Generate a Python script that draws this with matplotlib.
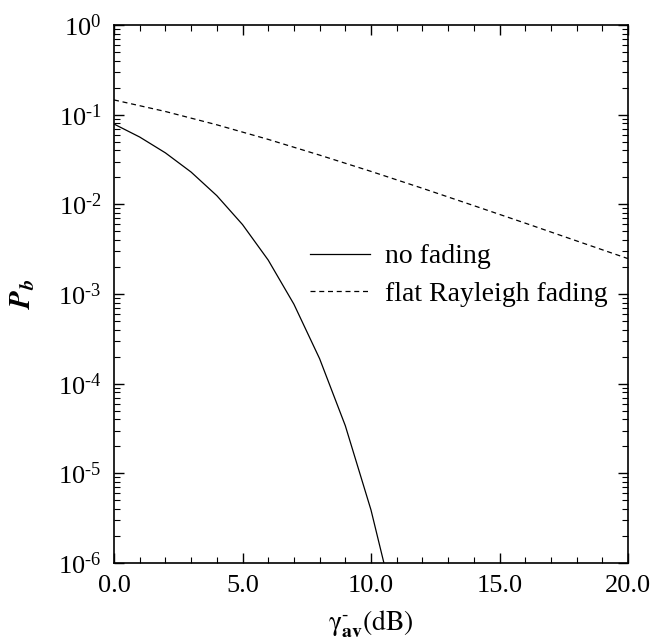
import matplotlib
matplotlib.use("Agg")
import matplotlib.pyplot as plt
from matplotlib.ticker import LogLocator, MultipleLocator, FormatStrFormatter, NullFormatter, FuncFormatter
import math

# data (SNR in dB, bit error probability)
snr_nf = [0, 1, 2, 3, 4, 5, 6, 7, 8, 9, 10, 11]
pb_nf = [0.0786, 0.0563, 0.0375, 0.0229, 0.0125, 0.00595, 0.00239,
         7.7e-4, 1.9e-4, 3.4e-5, 3.9e-6, 2.6e-7]
snr_ray = [0, 2, 4, 6, 8, 10, 12, 14, 16, 18, 20]
pb_ray = [0.146, 0.1085, 0.0771, 0.053, 0.0354, 0.0233, 0.0151,
          0.00967, 0.00617, 0.00391, 0.00248]
labels = ["no fading", "flat Rayleigh fading"]

plt.rcParams['font.family'] = ['Liberation Serif', 'DejaVu Serif']
plt.rcParams['mathtext.fontset'] = 'stix'

HY = '\u2010'

fig = plt.figure(figsize=(6.51, 6.41), dpi=100)
W, H = 651, 641
ax = fig.add_axes([114 / W, 1 - 563 / H, (628 - 114) / W, (563 - 25) / H])

ax.semilogy(snr_nf, pb_nf, color='black', lw=0.9, label=labels[0])
ax.semilogy(snr_ray, pb_ray, color='black', lw=0.9, ls=(0, (4, 3)), label=labels[1])

ax.set_xlim(0, 20)
ax.set_ylim(1e-6, 1)
ax.xaxis.set_major_locator(MultipleLocator(5))
ax.xaxis.set_minor_locator(MultipleLocator(1))
ax.xaxis.set_major_formatter(FormatStrFormatter('%.1f'))
ax.yaxis.set_major_locator(LogLocator(base=10, numticks=10))
ax.yaxis.set_minor_locator(LogLocator(base=10, subs=range(2, 10), numticks=20))
ax.yaxis.set_minor_formatter(NullFormatter())


def yfmt(v, pos):
    e = int(round(math.log10(v)))
    s = str(e).replace('-', HY)
    return r'$\mathregular{10^{%s}}$' % s


ax.yaxis.set_major_formatter(FuncFormatter(yfmt))

ax.tick_params(which='both', direction='in', top=True, right=True, labelsize=19)
ax.tick_params(which='major', length=7, width=1.0)
ax.tick_params(which='minor', length=4, width=0.8)
ax.tick_params(axis='x', pad=9)
ax.tick_params(axis='y', pad=9)
for s in ax.spines.values():
    s.set_linewidth(1.2)

ax.set_xlabel(r'$\mathrm{\gamma}^{\mathrm{' + HY + r'}}_{\mathbf{av}}\mathrm{(dB)}$', fontsize=20, labelpad=8)
ax.set_ylabel(r'$\mathbfit{P_b}$', fontsize=21, labelpad=15)

leg = ax.legend(loc='upper left', bbox_to_anchor=((310 - 114) / 514, (563 - 244) / 538),
                frameon=False, fontsize=20, handlelength=2.15, handletextpad=0.55,
                labelspacing=0.42, borderpad=0, borderaxespad=0)

fig.savefig('out.png', dpi=100)
